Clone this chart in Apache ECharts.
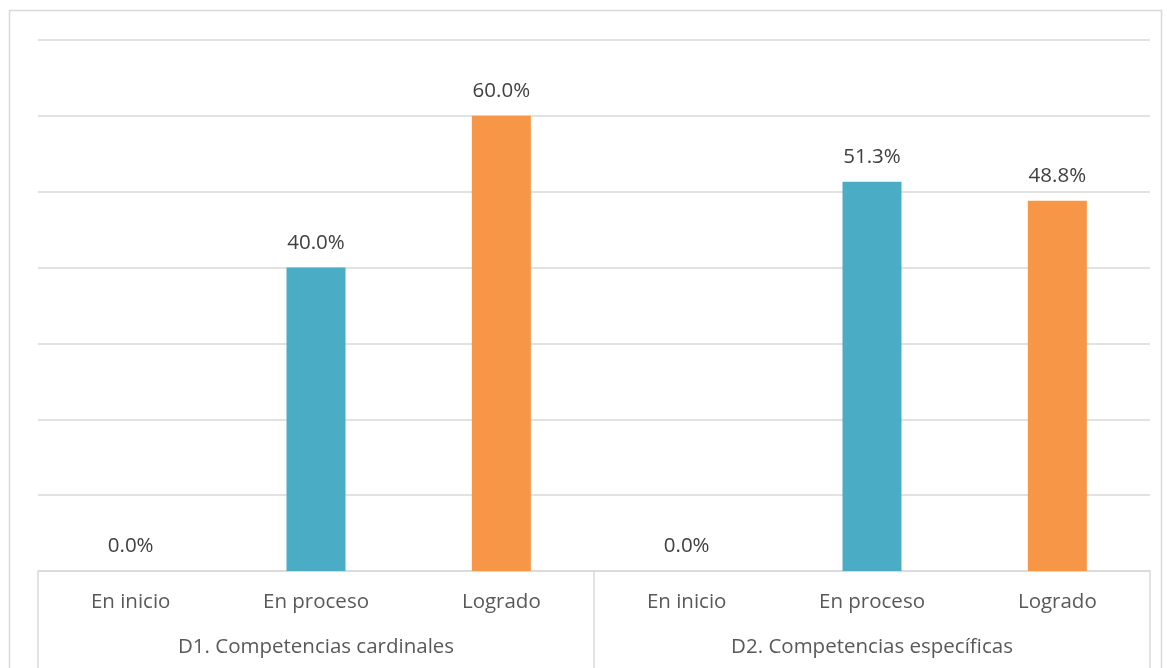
<!DOCTYPE html>
<html>
<head>
<meta charset="utf-8">
<script src="https://cdn.jsdelivr.net/npm/echarts@6/dist/echarts.min.js"></script>
<style>
  html, body { margin: 0; padding: 0; background: #fff; }
  #chart { width: 1167px; height: 668px; }
</style>
</head>
<body>
<div id="chart"></div>
<script>
var niveles = ['En inicio', 'En proceso', 'Logrado', 'En inicio', 'En proceso', 'Logrado'];
var dimensiones = ['D1. Competencias cardinales', 'D2. Competencias específicas'];
var porcentajes = [0, 40.0, 60.0, 0, 51.3, 48.8];
var colores = ['#4f81bd', '#4bacc6', '#f79646'];

var myChart = echarts.init(document.getElementById('chart'));

var option = {
    animation: false,
    textStyle: { fontFamily: 'Open Sans' },
    graphic: [{
        type: 'rect',
        shape: { x: 9.5, y: 10.5, width: 1152, height: 700 },
        style: { fill: 'none', stroke: '#d9d9d9', lineWidth: 1.5 }
    }],
    grid: { left: 38, right: 17, top: 40, bottom: 97 },
    xAxis: [
        {
            type: 'category',
            data: niveles,
            position: 'bottom',
            axisLine: { show: true, lineStyle: { color: '#d9d9d9', width: 1.5 } },
            axisTick: { show: false },
            axisLabel: { color: '#595959', fontSize: 20.5, margin: 21, interval: 0 }
        },
        {
            type: 'category',
            data: dimensiones,
            position: 'bottom',
            axisLine: { show: false },
            axisTick: { show: true, length: 100, lineStyle: { color: '#d9d9d9', width: 1.5 } },
            axisLabel: { color: '#595959', fontSize: 20.5, margin: 66, interval: 0 }
        }
    ],
    yAxis: {
        type: 'value',
        min: 0,
        max: 70,
        interval: 10,
        axisLine: { show: false },
        axisTick: { show: false },
        axisLabel: { show: false },
        splitLine: { lineStyle: { color: '#d9d9d9', width: 1.5 } }
    },
    series: [{
        type: 'bar',
        xAxisIndex: 0,
        barWidth: 59,
        data: porcentajes,
        itemStyle: {
            color: function (p) { return colores[p.dataIndex % 3]; }
        },
        label: {
            show: true,
            position: 'top',
            distance: 14,
            color: '#404040',
            fontSize: 20.5,
            formatter: function (p) { return p.value.toFixed(1) + '%'; }
        }
    }]
};
myChart.setOption(option);
</script>
</body>
</html>
